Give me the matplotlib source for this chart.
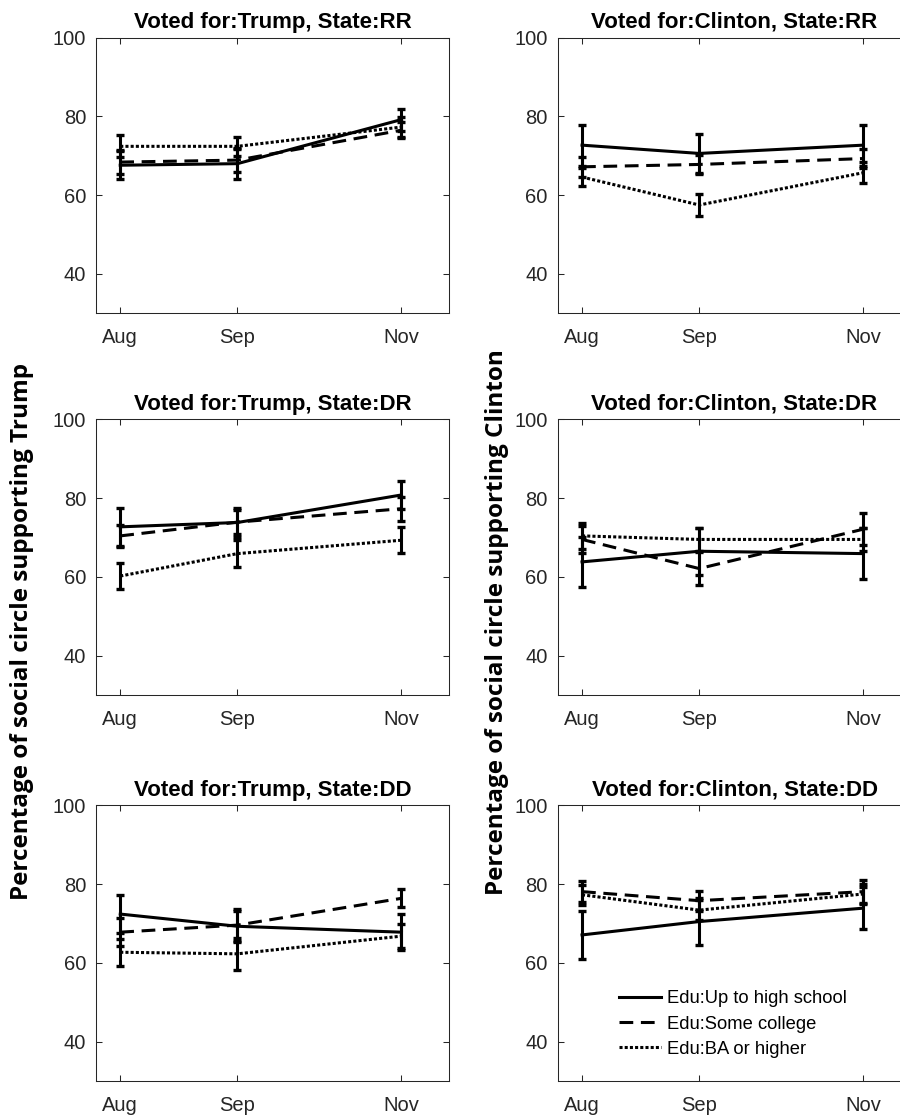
import numpy as np
import matplotlib
matplotlib.use('Agg')
import matplotlib.pyplot as plt

plt.rcParams['font.family'] = ['Liberation Sans', 'DejaVu Sans']

# survey waves (days after the first wave) and their labels
wave_x = [0, 35, 84]
months = ['Aug', 'Sep', 'Nov']

groups = ['Edu:Up to high school', 'Edu:Some college', 'Edu:BA or higher']
votes = ['Trump', 'Clinton']
states = ['RR', 'DR', 'DD']

# means and error half-widths, per panel: [hs, sc, ba]
trump_rr = [[67.6, 68.0, 79.2], [68.4, 68.9, 76.5], [72.4, 72.4, 77.3]]
trump_rr_err = [[3.5, 3.8, 2.8], [3.0, 3.0, 2.0], [2.8, 2.4, 2.5]]
clinton_rr = [[72.7, 70.6, 72.7], [67.2, 67.8, 69.3], [64.6, 57.5, 65.7]]
clinton_rr_err = [[5.2, 5.0, 5.2], [2.5, 2.5, 2.5], [2.3, 2.7, 2.6]]
trump_dr = [[72.7, 73.8, 80.8], [70.4, 73.9, 77.3], [60.2, 65.9, 69.3]]
trump_dr_err = [[4.9, 3.8, 3.5], [2.8, 3.0, 3.0], [3.3, 3.4, 3.3]]
clinton_dr = [[63.8, 66.5, 65.9], [69.5, 62.1, 72.1], [70.4, 69.5, 69.5]]
clinton_dr_err = [[6.3, 6.0, 6.5], [3.5, 4.2, 4.1], [3.4, 3.0, 3.0]]
trump_dd = [[72.4, 69.3, 67.8], [67.8, 69.6, 76.4], [62.7, 62.3, 66.8]]
trump_dd_err = [[4.8, 4.0, 4.6], [3.5, 4.0, 2.3], [3.4, 4.0, 3.0]]
clinton_dd = [[67.1, 70.5, 73.9], [78.1, 75.8, 78.1], [77.3, 73.4, 77.5]]
clinton_dd_err = [[6.0, 5.9, 5.3], [2.7, 2.5, 2.9], [2.5, 2.5, 2.5]]

panels = {
    ('Trump', 'RR'): (trump_rr, trump_rr_err),
    ('Clinton', 'RR'): (clinton_rr, clinton_rr_err),
    ('Trump', 'DR'): (trump_dr, trump_dr_err),
    ('Clinton', 'DR'): (clinton_dr, clinton_dr_err),
    ('Trump', 'DD'): (trump_dd, trump_dd_err),
    ('Clinton', 'DD'): (clinton_dd, clinton_dd_err),
}

styles = ['-', (0, (4.5, 2.5)), (0, (1, 0.7))]
lw = 2.2
gray = '#262626'

fig = plt.figure(figsize=(9, 11.18), dpi=100)

col_x = [0.1072, 0.6203]
row_y = [0.7198, 0.3784, 0.0331]
w, h = 0.3917, 0.2465

for r, state in enumerate(states):
    for c, vote in enumerate(votes):
        ax = fig.add_axes([col_x[c], row_y[r], w, h])
        means, errs = panels[(vote, state)]
        for k in range(3):
            ax.plot(wave_x, means[k], color='k', lw=lw, linestyle=styles[k],
                    label=groups[k])
            ax.errorbar(wave_x, means[k], yerr=errs[k], fmt='none', ecolor='k',
                        elinewidth=lw, capsize=3, capthick=2.4)
        ax.set_xlim(-7.1, 98.2)
        ax.set_ylim(30, 100)
        ax.set_yticks([40, 60, 80, 100])
        ax.set_xticks(wave_x)
        ax.set_xticklabels(months)
        ax.tick_params(direction='in', length=4, width=0.75, color=gray,
                       labelcolor=gray, labelsize=14.5, top=True, right=True)
        ax.tick_params(axis='x', pad=10.5)
        ax.tick_params(axis='y', pad=7.5)
        for s in ax.spines.values():
            s.set_linewidth(0.75)
            s.set_color(gray)
        ax.set_title('Voted for:%s, State:%s' % (vote, state),
                     fontsize=16, fontweight='bold', pad=7)
        if vote == 'Clinton' and state == 'DD':
            ax.legend(loc='center left', bbox_to_anchor=(0.172, 0.2065),
                      frameon=False, fontsize=13.2, handlelength=2.3,
                      handletextpad=0.3, labelspacing=0.45, borderpad=0,
                      borderaxespad=0)

fig.text(0.024, 1 - 631 / 1118, 'Percentage of social circle supporting Trump',
         rotation=90, ha='center', va='center', fontsize=17.5,
         fontweight='bold', family=['Open Sans', 'DejaVu Sans'])
fig.text(0.552, 1 - 622 / 1118, 'Percentage of social circle supporting Clinton',
         rotation=90, ha='center', va='center', fontsize=17.5,
         fontweight='bold', family=['Open Sans', 'DejaVu Sans'])

plt.savefig('out.png', dpi=100)
